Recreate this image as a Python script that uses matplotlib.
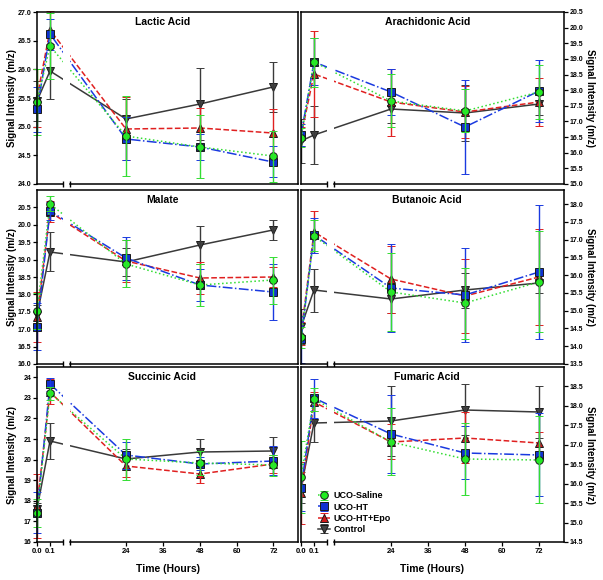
import numpy as np
import matplotlib
matplotlib.use('Agg')
import matplotlib.pyplot as plt

plt.rcParams['font.family'] = ['Liberation Sans', 'DejaVu Sans']
plt.rcParams['font.weight'] = 'bold'
plt.rcParams['axes.labelweight'] = 'bold'

# time points (hours)
times = [0.0, 0.1, 24, 48, 72]
series = ['UCO-Saline', 'UCO-HT', 'UCO-HT+Epo', 'Control']

# rows: saline, HT, HT+Epo, control
lactic_mean = [[25.43, 26.41, 24.84, 24.65, 24.48],
               [25.30, 26.61, 24.79, 24.65, 24.39],
               [25.50, 26.69, 24.96, 24.98, 24.89],
               [25.45, 25.97, 25.14, 25.40, 25.69]]
lactic_err = [[0.58, 0.58, 0.70, 0.55, 0.44],
              [0.40, 0.27, 0.37, 0.23, 0.27],
              [0.50, 0.32, 0.55, 0.35, 0.42],
              [0.35, 0.48, 0.35, 0.63, 0.43]]

arach_mean = [[16.48, 18.89, 17.67, 17.35, 17.93],
              [16.58, 18.91, 17.94, 16.82, 17.98],
              [16.52, 18.52, 17.61, 17.29, 17.61],
              [16.37, 16.58, 17.40, 17.27, 17.56]]
arach_err = [[0.30, 0.78, 0.85, 0.70, 0.86],
             [0.35, 0.75, 0.74, 1.50, 1.00],
             [0.30, 1.38, 1.07, 0.83, 0.77],
             [0.70, 0.93, 0.45, 0.90, 0.35]]

malate_mean = [[17.53, 20.61, 18.88, 18.28, 18.40],
               [17.07, 20.40, 19.04, 18.26, 18.07],
               [17.35, 20.38, 18.95, 18.47, 18.50],
               [17.40, 19.23, 18.93, 19.42, 19.85]]
malate_err = [[0.52, 0.22, 0.67, 0.60, 0.67],
              [0.67, 0.26, 0.62, 0.46, 0.80],
              [0.72, 0.31, 0.60, 0.45, 0.30],
              [0.30, 0.56, 0.40, 0.55, 0.28]]

butan_mean = [[14.25, 17.11, 15.52, 15.21, 15.82],
              [14.20, 17.12, 15.64, 15.45, 16.09],
              [14.35, 17.22, 15.88, 15.41, 15.95],
              [14.55, 15.57, 15.33, 15.57, 15.79]]
butan_err = [[0.30, 0.44, 1.10, 1.00, 1.43],
             [0.66, 0.50, 1.23, 1.33, 1.90],
             [0.32, 0.60, 0.95, 1.05, 1.36],
             [0.50, 0.60, 0.40, 0.50, 0.30]]

succ_mean = [[17.40, 23.22, 20.02, 19.84, 19.73],
             [17.43, 23.66, 20.22, 19.81, 19.94],
             [17.73, 23.30, 19.68, 19.32, 19.78],
             [17.60, 20.92, 20.05, 20.35, 20.43]]
succ_err = [[0.67, 0.30, 1.00, 0.60, 0.50],
            [1.00, 0.33, 0.65, 0.33, 0.70],
            [1.55, 0.60, 0.50, 0.45, 0.45],
            [0.30, 0.88, 0.45, 0.63, 0.65]]

fum_mean = [[16.17, 18.17, 17.08, 16.63, 16.61],
            [15.90, 18.20, 17.28, 16.80, 16.74],
            [15.75, 18.11, 17.08, 17.18, 17.04],
            [15.90, 17.55, 17.60, 17.90, 17.84]]
fum_err = [[0.92, 0.30, 0.86, 0.92, 1.12],
           [0.60, 0.50, 1.00, 0.68, 1.07],
           [0.80, 0.25, 0.45, 0.65, 0.30],
           [0.40, 0.47, 0.90, 0.66, 0.66]]

xticks = [0.0, 0.1, 24, 36, 48, 60, 72]
xticklabels = ['0.0', '0.1', '24', '36', '48', '60', '72']

# (title, means, errs, ylim, yticks, tick format)
panels = [
    ('Lactic Acid', lactic_mean, lactic_err, (24, 27), np.arange(24, 27.01, 0.5), '%.1f'),
    ('Arachidonic Acid', arach_mean, arach_err, (15, 20.5), np.arange(15, 20.51, 0.5), '%.1f'),
    ('Malate', malate_mean, malate_err, (16, 21), np.arange(16, 20.51, 0.5), '%.1f'),
    ('Butanoic Acid', butan_mean, butan_err, (13.5, 18.4), np.arange(13.5, 18.01, 0.5), '%.1f'),
    ('Succinic Acid', succ_mean, succ_err, (16, 24.5), np.arange(16, 24.01, 1), '%d'),
    ('Fumaric Acid', fum_mean, fum_err, (14.5, 19), np.arange(14.5, 18.51, 0.5), '%.1f'),
]

styles = [
    dict(marker='o', ls=':', color='#33dd33', mfc='#22ee22'),
    dict(marker='s', ls='-.', color='#1a3ae0', mfc='#1030d0'),
    dict(marker='^', ls='--', color='#e02020', mfc='#d01818'),
    dict(marker='v', ls='-', color='#3a3a3a', mfc='#444444'),
]
zorders = [2.3, 2.2, 2.1, 2.0]

# broken x axis: 0-0.2 short segment, gap, then 5.7-80
xk = [0.0, 0.2, 5.7, 80.0]
uk = [0.0, 25.5, 33.0, 261.0]
brk_lo, brk_hi = 0.2, 5.7


def piecewise(x, xs, ys):
    x = np.asarray(x, dtype=float)
    y = np.interp(x, xs, ys)
    y = np.where(x < xs[0], ys[0] + (x - xs[0]) * (ys[1] - ys[0]) / (xs[1] - xs[0]), y)
    y = np.where(x > xs[-1], ys[-1] + (x - xs[-1]) * (ys[-1] - ys[-2]) / (xs[-1] - xs[-2]), y)
    return y


fig = plt.figure(figsize=(6.03, 5.8), dpi=100)
col_x = [(37 / 603, 261 / 603), (301 / 603, 263 / 603)]
row_y = [(1 - 184 / 580, 172 / 580), (1 - 364 / 580, 174 / 580), (1 - 542 / 580, 175 / 580)]

for i, (title, means, errs, ylim, yt, fmt) in enumerate(panels):
    r, c = divmod(i, 2)
    ax = fig.add_axes([col_x[c][0], row_y[r][0], col_x[c][1], row_y[r][1]])
    ax.set_xscale('function', functions=(lambda x: piecewise(x, xk, uk),
                                         lambda u: piecewise(u, uk, xk)))
    ax.set_xlim(0, 80)
    ax.set_ylim(*ylim)

    handles = []
    for k in range(4):
        st = styles[k]
        cont = ax.errorbar(times, means[k], yerr=errs[k], marker=st['marker'], ls=st['ls'],
                           color=st['color'], mfc=st['mfc'], mec='#1a1a1a', mew=0.7,
                           ms=5.5, lw=1.1, ecolor=st['color'], elinewidth=1.0,
                           capsize=3.2, capthick=1.0, zorder=zorders[k], label=series[k])
        for art in cont.get_children():
            art.set_clip_on(c == 1)
            art.set_zorder(zorders[k])
            art.set_snap(True)
        handles.append(cont)

    # white gap where the axis is broken
    ax.axvspan(brk_lo, brk_hi, color='white', zorder=2.4, lw=0)

    for sp in ax.spines.values():
        sp.set_linewidth(1.1)
        sp.set_zorder(2.5)
    ax.spines['bottom'].set_visible(False)
    tr = ax.get_xaxis_transform()
    ax.plot([0, brk_lo], [0, 0], color='black', lw=1.1, transform=tr, clip_on=False, zorder=3)
    ax.plot([brk_hi, 80], [0, 0], color='black', lw=1.1, transform=tr, clip_on=False, zorder=3)
    ax.plot([brk_lo, brk_hi], [0, 0], ls='none', marker='|', ms=5, mew=1.0, color='black',
            transform=tr, clip_on=False, zorder=3)

    ax.set_yticks(yt)
    ax.set_yticklabels([fmt % v for v in yt])
    ax.tick_params(axis='y', labelsize=5, width=0.9, length=3, pad=1)
    if c == 1:
        ax.yaxis.tick_right()
        ax.yaxis.set_label_position('right')
        ax.set_ylabel('Signal Intensity (m/z)', fontsize=7, rotation=270, va='center')
        ax.yaxis.set_label_coords(1.10, 0.5)
    else:
        ax.set_ylabel('Signal Intensity (m/z)', fontsize=7, va='center')
        ax.yaxis.set_label_coords(-0.095, 0.5)

    if r == 2:
        ax.set_xticks(xticks)
        ax.set_xticklabels(xticklabels)
        ax.tick_params(axis='x', labelsize=5.5, width=0.9, length=3, pad=1.5)
        ax.set_xlabel('Time (Hours)', fontsize=7.5, labelpad=6)
    else:
        ax.set_xticks([])

    ax.text(0.48, 0.94, title, transform=ax.transAxes, ha='center', va='center',
            fontsize=7.5, fontweight='bold', zorder=4)

    if i == 5:
        leg = ax.legend(handles, series, loc='lower left', bbox_to_anchor=(0.065, 0.045),
                        frameon=False, prop={'size': 6.5, 'weight': 'bold'}, handlelength=1.3,
                        handletextpad=0.4, labelspacing=0.25, borderaxespad=0, borderpad=0)
        leg.set_zorder(5)

fig.savefig('out.png', dpi=100)
